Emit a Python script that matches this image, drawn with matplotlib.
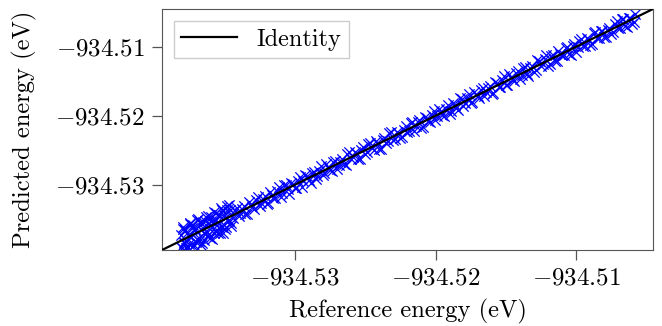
import matplotlib
matplotlib.use("Agg")
import matplotlib.pyplot as plt

# LaTeX-like look
plt.rcParams['font.family'] = 'serif'
plt.rcParams['font.serif'] = ['cmr10']
plt.rcParams['mathtext.fontset'] = 'cm'
plt.rcParams['axes.formatter.use_mathtext'] = True

# Data (eV)
reference = [
    -934.53812, -934.53808, -934.53803, -934.53799, -934.53795, -934.53790, -934.53786, -934.53782,
    -934.53779, -934.53775, -934.53770, -934.53766, -934.53762, -934.53757, -934.53753, -934.53748,
    -934.53744, -934.53740, -934.53736, -934.53731, -934.53727, -934.53722, -934.53716, -934.53712,
    -934.53708, -934.53703, -934.53699, -934.53694, -934.53689, -934.53684, -934.53680, -934.53675,
    -934.53671, -934.53666, -934.53661, -934.53656, -934.53652, -934.53647, -934.53643, -934.53638,
    -934.53633, -934.53628, -934.53624, -934.53619, -934.53614, -934.53610, -934.53605, -934.53600,
    -934.53596, -934.53591, -934.53586, -934.53582, -934.53577, -934.53572, -934.53567, -934.53562,
    -934.53558, -934.53553, -934.53548, -934.53543, -934.53539, -934.53534, -934.53529, -934.53524,
    -934.53520, -934.53515, -934.53510, -934.53505, -934.53500, -934.53496, -934.53491, -934.53486,
    -934.53481, -934.53476, -934.53471, -934.53466, -934.53462, -934.53457, -934.53452,
    -934.53440, -934.53427, -934.53414, -934.53401, -934.53390, -934.53378, -934.53365, -934.53352,
    -934.53339, -934.53326, -934.53315, -934.53303, -934.53290, -934.53277, -934.53264, -934.53251,
    -934.53240, -934.53228, -934.53215, -934.53202, -934.53189, -934.53176, -934.53165, -934.53153,
    -934.53140, -934.53127, -934.53114, -934.53101, -934.53090, -934.53078, -934.53065, -934.53052,
    -934.53039, -934.53026, -934.53015, -934.53003, -934.52990, -934.52977, -934.52964, -934.52951,
    -934.52940, -934.52928, -934.52915, -934.52902, -934.52889, -934.52876, -934.52865, -934.52853,
    -934.52840, -934.52827, -934.52814, -934.52801, -934.52790, -934.52778, -934.52765, -934.52752,
    -934.52739, -934.52726, -934.52715, -934.52703, -934.52690, -934.52677, -934.52664, -934.52651,
    -934.52640, -934.52628, -934.52615, -934.52602, -934.52589, -934.52576, -934.52565, -934.52553,
    -934.52540, -934.52527, -934.52514, -934.52501, -934.52490, -934.52478, -934.52465, -934.52452,
    -934.52439, -934.52426, -934.52415, -934.52403, -934.52390, -934.52377, -934.52364, -934.52351,
    -934.52340, -934.52328, -934.52315, -934.52302, -934.52289, -934.52276, -934.52265, -934.52253,
    -934.52240, -934.52227, -934.52214, -934.52201, -934.52190, -934.52178, -934.52165, -934.52152,
    -934.52139, -934.52126, -934.52115, -934.52103, -934.52090, -934.52077, -934.52064, -934.52051,
    -934.52040, -934.52028, -934.52015, -934.52002, -934.51989, -934.51976, -934.51965, -934.51953,
    -934.51940, -934.51927, -934.51914, -934.51901, -934.51890, -934.51878, -934.51865, -934.51852,
    -934.51839, -934.51826, -934.51815, -934.51803, -934.51790, -934.51777, -934.51764, -934.51751,
    -934.51740, -934.51728, -934.51715, -934.51702, -934.51689, -934.51676, -934.51665, -934.51653,
    -934.51640, -934.51627, -934.51614, -934.51601, -934.51590, -934.51578, -934.51565, -934.51552,
    -934.51539, -934.51526, -934.51515, -934.51503, -934.51490, -934.51477, -934.51464, -934.51451,
    -934.51440, -934.51428, -934.51415, -934.51402, -934.51389, -934.51376, -934.51365, -934.51353,
    -934.51340, -934.51327, -934.51314, -934.51301, -934.51290, -934.51278, -934.51265, -934.51252,
    -934.51239, -934.51226, -934.51215, -934.51203, -934.51190, -934.51177, -934.51164, -934.51151,
    -934.51140, -934.51128, -934.51115, -934.51102, -934.51089, -934.51076, -934.51065, -934.51053,
    -934.51040, -934.51027, -934.51014, -934.51001, -934.50990, -934.50978, -934.50965, -934.50952,
    -934.50939, -934.50926, -934.50915, -934.50903, -934.50890, -934.50877, -934.50864, -934.50851,
    -934.50840, -934.50828, -934.50815, -934.50802, -934.50789, -934.50776, -934.50765, -934.50753,
    -934.50740, -934.50727, -934.50714, -934.50701, -934.50690, -934.50678, -934.50665, -934.50652,
    -934.50639, -934.50626, -934.50615, -934.50603, -934.50592, -934.50580,
]
predicted = [
    -934.53732, -934.53908, -934.53913, -934.53639, -934.53615, -934.53830, -934.53846, -934.53652,
    -934.53659, -934.53915, -934.53910, -934.53696, -934.53722, -934.53897, -934.53863, -934.53548,
    -934.53574, -934.53760, -934.53756, -934.53621, -934.53587, -934.53892, -934.53876, -934.53662,
    -934.53638, -934.53823, -934.53789, -934.53514, -934.53499, -934.53764, -934.53810, -934.53535,
    -934.53641, -934.53866, -934.53841, -934.53626, -934.53542, -934.53797, -934.53693, -934.53518,
    -934.53473, -934.53688, -934.53744, -934.53449, -934.53554, -934.53720, -934.53775, -934.53520,
    -934.53466, -934.53781, -934.53616, -934.53542, -934.53397, -934.53702, -934.53667, -934.53412,
    -934.53508, -934.53583, -934.53698, -934.53443, -934.53439, -934.53694, -934.53599, -934.53334,
    -934.53370, -934.53605, -934.53700, -934.53445, -934.53480, -934.53636, -934.53611, -934.53366,
    -934.53311, -934.53526, -934.53511, -934.53296, -934.53372, -934.53557, -934.53592,
    -934.53480, -934.53367, -934.53339, -934.53446, -934.53405, -934.53353, -934.53310, -934.53422,
    -934.53424, -934.53246, -934.53285, -934.53323, -934.53350, -934.53227, -934.53174, -934.53311,
    -934.53265, -934.53213, -934.53170, -934.53282, -934.53259, -934.53111, -934.53155, -934.53188,
    -934.53190, -934.53087, -934.53034, -934.53176, -934.53125, -934.53008, -934.53000, -934.53062,
    -934.53129, -934.52971, -934.52995, -934.53053, -934.53045, -934.52947, -934.52894, -934.53036,
    -934.52945, -934.52853, -934.52875, -934.52927, -934.52969, -934.52831, -934.52815, -934.52918,
    -934.52870, -934.52807, -934.52729, -934.52856, -934.52835, -934.52698, -934.52750, -934.52792,
    -934.52804, -934.52666, -934.52655, -934.52773, -934.52710, -934.52667, -934.52629, -934.52701,
    -934.52715, -934.52558, -934.52520, -934.52632, -934.52599, -934.52526, -934.52540, -934.52633,
    -934.52625, -934.52492, -934.52459, -934.52561, -934.52530, -934.52413, -934.52395, -934.52467,
    -934.52499, -934.52371, -934.52395, -934.52478, -934.52480, -934.52352, -934.52319, -934.52396,
    -934.52365, -934.52248, -934.52230, -934.52357, -934.52339, -934.52236, -934.52255, -934.52323,
    -934.52310, -934.52212, -934.52154, -934.52236, -934.52225, -934.52103, -934.52090, -934.52217,
    -934.52154, -934.52096, -934.52065, -934.52183, -934.52170, -934.52017, -934.52034, -934.52071,
    -934.52095, -934.51983, -934.51925, -934.52062, -934.52009, -934.51906, -934.51925, -934.51993,
    -934.52010, -934.51907, -934.51849, -934.51976, -934.51935, -934.51823, -934.51850, -934.51882,
    -934.51924, -934.51746, -934.51760, -934.51853, -934.51820, -934.51742, -934.51684, -934.51821,
    -934.51800, -934.51663, -934.51690, -934.51717, -934.51739, -934.51626, -934.51595, -934.51713,
    -934.51650, -934.51602, -934.51569, -934.51681, -934.51665, -934.51508, -934.51530, -934.51587,
    -934.51579, -934.51481, -934.51430, -934.51558, -934.51555, -934.51402, -934.51444, -934.51476,
    -934.51495, -934.51388, -934.51355, -934.51472, -934.51414, -934.51316, -934.51290, -934.51398,
    -934.51420, -934.51307, -934.51284, -934.51366, -934.51335, -934.51198, -934.51210, -934.51282,
    -934.51254, -934.51176, -934.51125, -934.51278, -934.51250, -934.51142, -934.51124, -934.51201,
    -934.51210, -934.51058, -934.51100, -934.51122, -934.51124, -934.51021, -934.51000, -934.51113,
    -934.51125, -934.50997, -934.50964, -934.51081, -934.51010, -934.50913, -934.50885, -934.50992,
    -934.50994, -934.50881, -934.50890, -934.50973, -934.50955, -934.50802, -934.50794, -934.50876,
    -934.50870, -934.50773, -934.50770, -934.50857, -934.50864, -934.50756, -934.50730, -934.50818,
    -934.50790, -934.50667, -934.50629, -934.50736, -934.50730, -934.50598, -934.50605, -934.50697,
    -934.50709, -934.50586, -934.50585, -934.50673, -934.50637, -934.50530,
]
ticks = [-934.53, -934.52, -934.51]
tick_labels = ['$-934.53$', '$-934.52$', '$-934.51$']
lims = (-934.53945, -934.50455)

fig = plt.figure(figsize=(6.62, 3.26), dpi=100)
ax = fig.add_axes([0.2447, 0.2331, 0.7417, 0.7393])

ax.scatter(reference, predicted, marker='x', s=55, color='blue', linewidths=0.9, zorder=2)
ax.plot(lims, lims, color='black', lw=1.6, label='Identity', zorder=3)

ax.set_xlim(lims)
ax.set_ylim(lims)
ax.set_xticks(ticks)
ax.set_yticks(ticks)
ax.set_xticklabels(tick_labels)
ax.set_yticklabels(tick_labels)
ax.tick_params(labelsize=18, direction='out', length=7.5, width=0.9, color='#555555')
ax.tick_params(axis='x', pad=5)
ax.tick_params(axis='y', pad=5)
ax.tick_params(top=False, right=False)
for s in ax.spines.values():
    s.set_color('#555555')

ax.set_xlabel('Reference energy (eV)', fontsize=17.7)
ax.set_ylabel('Predicted energy (eV)', fontsize=17.7)
ax.xaxis.set_label_coords(0.5, -0.205)
ax.yaxis.set_label_coords(-0.2546, 0.5)

ax.legend(loc='upper left', fontsize=17.5, fancybox=False, framealpha=1,
          edgecolor='#cccccc', handlelength=2.3, borderpad=0.3, borderaxespad=0.5)

fig.savefig('out.png', dpi=100)
